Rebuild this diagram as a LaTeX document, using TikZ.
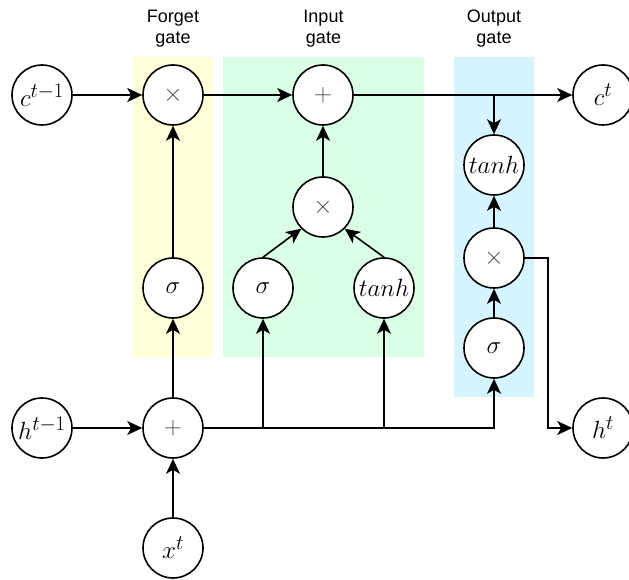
\documentclass[tikz,border=0pt]{standalone}
\usepackage[no-math]{fontspec}
\setmainfont{Liberation Sans}
\usepackage{tikz}
\usetikzlibrary{calc,backgrounds,arrows.meta,positioning}
\definecolor{GateYellow}{RGB}{255,255,218}
\definecolor{GateGreen}{RGB}{218,255,228}
\definecolor{GateBlue}{RGB}{214,244,255}

\begin{document}
\begin{tikzpicture}[x=1pt, y=1pt, >={Stealth[length=15pt,width=14pt,inset=4pt]},
       line width=1.6pt, text=black,
       unit/.style={circle, draw, fill=white, minimum size=60pt, inner sep=0pt,
                    font=\fontsize{30}{30}\selectfont},
       op/.style={unit, font=\fontsize{25}{25}\selectfont, text=black!70},
       gatebox/.style n args={3}{rectangle, minimum width=#1, minimum height=#2,
                    fill=#3, draw=none, inner sep=0pt, outer sep=0pt},
       gatelabel/.style={align=center, inner sep=0pt, font=\fontsize{18}{21}\selectfont}]
	\useasboundingbox (-42,95) rectangle (587,-485);

	%% Cell state line
	\node [unit] (ct1) {$c^{t-1}$};
	\node [op, right=69.4pt of ct1] (fmul) {$\times$};
	\node [op, right=88.4pt of fmul] (iadd) {$+$};
	\node [unit, right=218.4pt of iadd] (ct) {$c^t$};

	%% Forget gate
	\node [unit, below=131.4pt of fmul] (fsig) {$\sigma$};
	\node [op, below=78.4pt of fsig] (hadd) {$+$};
	\node [unit, left=69.4pt of hadd] (ht1) {$h^{t-1}$};
	\node [unit, below=58.4pt of hadd] (xt) {$x^t$};

	%% Input gate
	\node [unit, right=28.4pt of fsig] (isig) {$\sigma$};
	\node [unit, right=59.4pt of isig] (itanh) {\makebox[0pt]{$tanh$}};
	\node [op, below=50.4pt of iadd] (imul) {$\times$};

	%% Output gate
	\node [unit] (otanh) at (452,-70) {\makebox[0pt]{$tanh$}};
	\node [op, below=31.4pt of otanh] (omul) {$\times$};
	\node [unit, below=28.4pt of omul] (osig) {$\sigma$};
	\node [unit] (ht) at (ct |- hadd) {$h^t$};

	%% Gate regions
	\begin{scope}[on background layer]
		\node [gatebox={80pt}{300pt}{GateYellow}, anchor=north] (forget) at ($(fmul)+(0,38)$) {};
		\node [gatebox={201pt}{300pt}{GateGreen}, anchor=north] (input) at ($(iadd)+(0.5,38)$) {};
		\node [gatebox={80pt}{340pt}{GateBlue}, anchor=north] (output) at ($(otanh |- iadd)+(0,38)$) {};
	\end{scope}
	\node [gatelabel, above=9pt of forget] (forget_lbl) {Forget\\gate};
	\node [gatelabel, above=9pt of input] (input_lbl) {Input\\gate};
	\node [gatelabel, above=9pt of output] (output_lbl) {Output\\gate};

	%% Simple paths
	\draw[->] (ct1) -- (fmul);
	\draw[->] (fmul) -- (iadd);
	\draw[->] (iadd) -- (ct);
	\draw[->] (otanh |- iadd) -- (otanh);
	\draw[->] (fsig) -- (fmul);
	\draw[->] (imul) -- (iadd);
	\draw[->] (isig.north) -- (imul.south west);
	\draw[->] (itanh.north) -- (imul.south east);
	\draw[->] (ht1) -- (hadd);
	\draw[->] (xt) -- (hadd);
	\draw[->] (hadd) -- (fsig);
	\draw[->] (osig) -- (omul);
	\draw[->] (omul) -- (otanh);

	%% Branching paths
	\draw[->] (hadd) -| (osig);
	\draw[->] (isig |- hadd) -- (isig);
	\draw[->] (itanh |- hadd) -- (itanh);
	\draw[->] (omul.east) -- ++(23,0) |- (ht);
\end{tikzpicture}
\end{document}
